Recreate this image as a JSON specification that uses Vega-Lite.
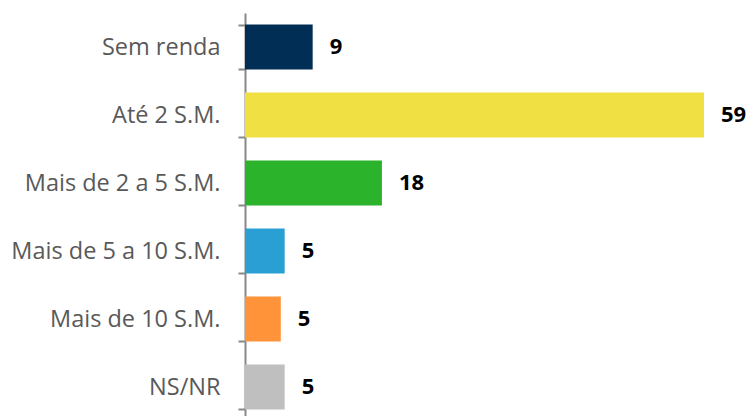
{
  "$schema": "https://vega.github.io/schema/vega-lite/v6.json",
  "width": 459,
  "height": 408,
  "autosize": "none",
  "padding": {"left": 245, "top": 13, "right": 47, "bottom": 0},
  "background": "white",
  "config": {"view": {"stroke": null}},
  "data": {"values": [
    {"faixa": "Sem renda", "valor": 8.7},
    {"faixa": "Até 2 S.M.", "valor": 59},
    {"faixa": "Mais de 2 a 5 S.M.", "valor": 17.6},
    {"faixa": "Mais de 5 a 10 S.M.", "valor": 5.1},
    {"faixa": "Mais de 10 S.M.", "valor": 4.6},
    {"faixa": "NS/NR", "valor": 5.1}
  ]},
  "encoding": {
    "y": {
      "field": "faixa", "type": "nominal", "sort": null,
      "scale": {"paddingInner": 0.34, "paddingOuter": 0.17},
      "axis": {
        "title": null, "tickBand": "extent", "domainColor": "#888888", "domainWidth": 2,
        "tickColor": "#888888", "tickWidth": 2, "tickSize": 7, "labelPadding": 18,
        "labelFont": "Open Sans", "labelFontSize": 23.5, "labelColor": "#595959", "labelLimit": 300
      }
    },
    "x": {"field": "valor", "type": "quantitative", "scale": {"domain": [0, 59], "nice": false}, "axis": null}
  },
  "layer": [
    {
      "mark": {"type": "bar"},
      "encoding": {
        "color": {
          "field": "faixa", "type": "nominal", "legend": null,
          "scale": {
            "domain": ["Sem renda", "Até 2 S.M.", "Mais de 2 a 5 S.M.", "Mais de 5 a 10 S.M.", "Mais de 10 S.M.", "NS/NR"],
            "range": ["#012E55", "#F0E043", "#2BB32B", "#2A9FD3", "#FF9339", "#BFBFBF"]
          }
        }
      }
    },
    {
      "mark": {"type": "text", "align": "left", "dx": 17, "font": "Open Sans", "fontSize": 22, "fontWeight": "bold", "color": "#000000"},
      "encoding": {"text": {"field": "valor", "type": "quantitative", "format": ".0f"}}
    }
  ]
}
